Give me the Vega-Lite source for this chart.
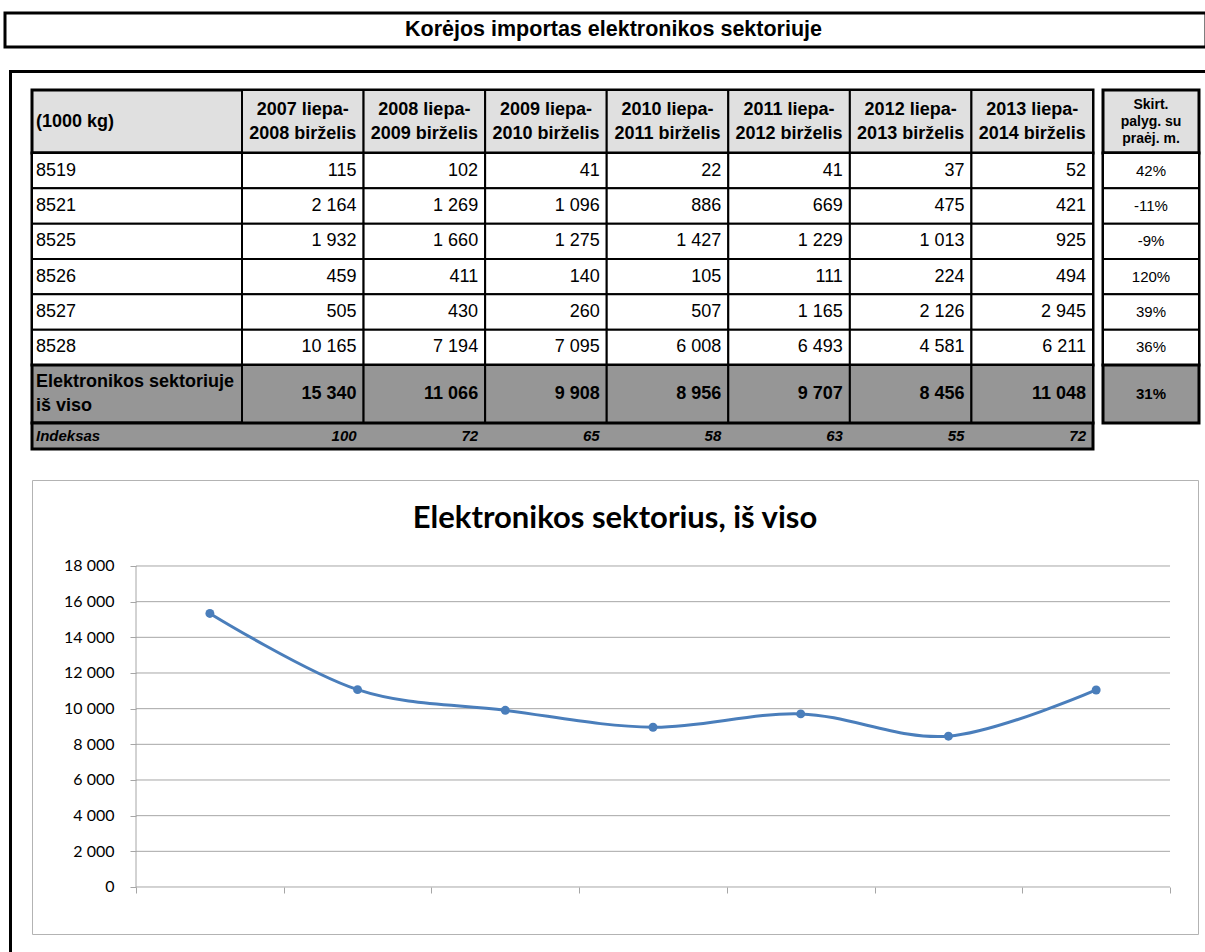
{
  "$schema": "https://vega.github.io/schema/vega-lite/v6.json",
  "padding": {"left": 3, "top": 11, "right": 0, "bottom": 0},
  "background": "white",
  "config": {
    "view": {"stroke": null},
    "locale": {"number": {"decimal": ",", "thousands": " ", "grouping": [3], "currency": ["", " €"], "minus": "-"}},
    "text": {"font": "Liberation Sans", "color": "black"}
  },
  "datasets": {
    "codes": [
      {"code": "8519", "period": "2007 liepa-\n2008 birželis", "value": 115},
      {"code": "8519", "period": "2008 liepa-\n2009 birželis", "value": 102},
      {"code": "8519", "period": "2009 liepa-\n2010 birželis", "value": 41},
      {"code": "8519", "period": "2010 liepa-\n2011 birželis", "value": 22},
      {"code": "8519", "period": "2011 liepa-\n2012 birželis", "value": 41},
      {"code": "8519", "period": "2012 liepa-\n2013 birželis", "value": 37},
      {"code": "8519", "period": "2013 liepa-\n2014 birželis", "value": 52},
      {"code": "8521", "period": "2007 liepa-\n2008 birželis", "value": 2164},
      {"code": "8521", "period": "2008 liepa-\n2009 birželis", "value": 1269},
      {"code": "8521", "period": "2009 liepa-\n2010 birželis", "value": 1096},
      {"code": "8521", "period": "2010 liepa-\n2011 birželis", "value": 886},
      {"code": "8521", "period": "2011 liepa-\n2012 birželis", "value": 669},
      {"code": "8521", "period": "2012 liepa-\n2013 birželis", "value": 475},
      {"code": "8521", "period": "2013 liepa-\n2014 birželis", "value": 421},
      {"code": "8525", "period": "2007 liepa-\n2008 birželis", "value": 1932},
      {"code": "8525", "period": "2008 liepa-\n2009 birželis", "value": 1660},
      {"code": "8525", "period": "2009 liepa-\n2010 birželis", "value": 1275},
      {"code": "8525", "period": "2010 liepa-\n2011 birželis", "value": 1427},
      {"code": "8525", "period": "2011 liepa-\n2012 birželis", "value": 1229},
      {"code": "8525", "period": "2012 liepa-\n2013 birželis", "value": 1013},
      {"code": "8525", "period": "2013 liepa-\n2014 birželis", "value": 925},
      {"code": "8526", "period": "2007 liepa-\n2008 birželis", "value": 459},
      {"code": "8526", "period": "2008 liepa-\n2009 birželis", "value": 411},
      {"code": "8526", "period": "2009 liepa-\n2010 birželis", "value": 140},
      {"code": "8526", "period": "2010 liepa-\n2011 birželis", "value": 105},
      {"code": "8526", "period": "2011 liepa-\n2012 birželis", "value": 111},
      {"code": "8526", "period": "2012 liepa-\n2013 birželis", "value": 224},
      {"code": "8526", "period": "2013 liepa-\n2014 birželis", "value": 494},
      {"code": "8527", "period": "2007 liepa-\n2008 birželis", "value": 505},
      {"code": "8527", "period": "2008 liepa-\n2009 birželis", "value": 430},
      {"code": "8527", "period": "2009 liepa-\n2010 birželis", "value": 260},
      {"code": "8527", "period": "2010 liepa-\n2011 birželis", "value": 507},
      {"code": "8527", "period": "2011 liepa-\n2012 birželis", "value": 1165},
      {"code": "8527", "period": "2012 liepa-\n2013 birželis", "value": 2126},
      {"code": "8527", "period": "2013 liepa-\n2014 birželis", "value": 2945},
      {"code": "8528", "period": "2007 liepa-\n2008 birželis", "value": 10165},
      {"code": "8528", "period": "2008 liepa-\n2009 birželis", "value": 7194},
      {"code": "8528", "period": "2009 liepa-\n2010 birželis", "value": 7095},
      {"code": "8528", "period": "2010 liepa-\n2011 birželis", "value": 6008},
      {"code": "8528", "period": "2011 liepa-\n2012 birželis", "value": 6493},
      {"code": "8528", "period": "2012 liepa-\n2013 birželis", "value": 4581},
      {"code": "8528", "period": "2013 liepa-\n2014 birželis", "value": 6211}
    ],
    "totals": [
      {"period": "2007 liepa-\n2008 birželis", "value": 15340, "index": 100},
      {"period": "2008 liepa-\n2009 birželis", "value": 11066, "index": 72},
      {"period": "2009 liepa-\n2010 birželis", "value": 9908, "index": 65},
      {"period": "2010 liepa-\n2011 birželis", "value": 8956, "index": 58},
      {"period": "2011 liepa-\n2012 birželis", "value": 9707, "index": 63},
      {"period": "2012 liepa-\n2013 birželis", "value": 8456, "index": 55},
      {"period": "2013 liepa-\n2014 birželis", "value": 11048, "index": 72}
    ],
    "change": [
      {"code": "8519", "change": 0.42},
      {"code": "8521", "change": -0.11},
      {"code": "8525", "change": -0.09},
      {"code": "8526", "change": 1.2},
      {"code": "8527", "change": 0.39},
      {"code": "8528", "change": 0.36}
    ],
    "totalRow": [
      {"label": "Elektronikos sektoriuje\niš viso", "change": 0.31}
    ],
    "grid": [
      {"v": 0}, {"v": 2000}, {"v": 4000}, {"v": 6000}, {"v": 8000},
      {"v": 10000}, {"v": 12000}, {"v": 14000}, {"v": 16000}, {"v": 18000}
    ]
  },
  "spacing": 21,
  "vconcat": [
    {
      "width": 1201, "height": 34,
      "view": {"stroke": "black", "strokeWidth": 3, "fill": "white"},
      "data": {"values": [{"title": "Korėjos importas elektronikos sektoriuje"}]},
      "mark": {"type": "text", "fontWeight": "bold", "fontSize": 21.5, "baseline": "middle", "align": "center", "dx": 8},
      "encoding": {"text": {"field": "title"}}
    },
    {
      "spacing": 3,
      "hconcat": [
        {"width": 1, "height": 1, "data": {"values": []}, "mark": "point"},
        {
          "spacing": 0,
          "vconcat": [
            {"width": 1197, "height": 3, "view": {"fill": "black", "stroke": null}, "data": {"values": []}, "mark": "point"},
            {
              "spacing": 17,
              "hconcat": [
                {"width": 3, "height": 880, "view": {"fill": "black", "stroke": null}, "data": {"values": []}, "mark": "point"},
                {
                  "spacing": 0,
                  "vconcat": [
                    {"width": 1, "height": 14, "data": {"values": []}, "mark": "point"},
                    {
                      "spacing": 4,
                      "hconcat": [
                        {
                          "spacing": 0,
                          "bounds": "flush",
                          "vconcat": [
                            {
                              "width": 1061, "height": 63,
                              "view": {"fill": "#e0e0e0", "stroke": "black", "strokeWidth": 3},
                              "layer": [
                                {
                                  "data": {"values": [{"label": "(1000 kg)"}]},
                                  "mark": {"type": "text", "fontWeight": "bold", "fontSize": 18, "align": "left", "baseline": "middle", "dx": 4},
                                  "encoding": {
                                    "text": {"field": "label"},
                                    "x": {"datum": 0, "type": "quantitative", "scale": {"domain": [0, 1]}, "axis": null}
                                  }
                                },
                                {
                                  "data": {"name": "totals"},
                                  "mark": {"type": "rect", "fill": "#e0e0e0", "stroke": "black", "strokeWidth": 2},
                                  "encoding": {
                                    "x": {"field": "period", "type": "nominal", "sort": null, "scale": {"type": "band", "paddingInner": 0, "paddingOuter": 0.8637, "align": 1}, "axis": null}
                                  }
                                },
                                {
                                  "data": {"name": "totals"},
                                  "mark": {"type": "text", "fontWeight": "bold", "fontSize": 18, "lineBreak": "\n", "lineHeight": 24, "baseline": "middle", "align": "center", "dy": -12},
                                  "encoding": {
                                    "x": {"field": "period", "type": "nominal", "sort": null, "scale": {"type": "band", "paddingInner": 0, "paddingOuter": 0.8637, "align": 1}, "axis": null},
                                    "text": {"field": "period"}
                                  }
                                }
                              ],
                              "resolve": {"scale": {"x": "independent"}}
                            },
                            {
                              "width": 1061, "height": 212,
                              "view": {"fill": "white", "stroke": "black", "strokeWidth": 3},
                              "layer": [
                                {
                                  "data": {"name": "change"},
                                  "mark": {"type": "rect", "fill": "white", "stroke": "black", "strokeWidth": 2},
                                  "encoding": {
                                    "y": {"field": "code", "type": "nominal", "sort": null, "scale": {"type": "band", "paddingInner": 0, "paddingOuter": 0}, "axis": null}
                                  }
                                },
                                {
                                  "data": {"name": "change"},
                                  "mark": {"type": "text", "fontSize": 18, "align": "left", "baseline": "middle", "dx": 4},
                                  "encoding": {
                                    "text": {"field": "code"},
                                    "x": {"datum": 0, "type": "quantitative", "scale": {"domain": [0, 1]}, "axis": null},
                                    "y": {"field": "code", "type": "nominal", "sort": null}
                                  }
                                },
                                {
                                  "data": {"name": "codes"},
                                  "mark": {"type": "rect", "fill": "white", "stroke": "black", "strokeWidth": 2},
                                  "encoding": {
                                    "x": {"field": "period", "type": "nominal", "sort": null, "scale": {"type": "band", "paddingInner": 0, "paddingOuter": 0.8637, "align": 1}, "axis": null},
                                    "y": {"field": "code", "type": "nominal", "sort": null}
                                  }
                                },
                                {
                                  "data": {"name": "codes"},
                                  "mark": {"type": "text", "fontSize": 18, "align": "right", "baseline": "middle", "dx": -7},
                                  "encoding": {
                                    "x": {"field": "period", "type": "nominal", "sort": null, "bandPosition": 1, "scale": {"type": "band", "paddingInner": 0, "paddingOuter": 0.8637, "align": 1}, "axis": null},
                                    "y": {"field": "code", "type": "nominal", "sort": null},
                                    "text": {"field": "value", "type": "quantitative", "format": ",d"}
                                  }
                                }
                              ],
                              "resolve": {"scale": {"x": "independent"}}
                            },
                            {
                              "width": 1061, "height": 58,
                              "view": {"fill": "#969696", "stroke": "black", "strokeWidth": 3},
                              "layer": [
                                {
                                  "data": {"name": "totalRow"},
                                  "mark": {"type": "text", "fontWeight": "bold", "fontSize": 18, "align": "left", "baseline": "middle", "dx": 4, "dy": -12, "lineBreak": "\n", "lineHeight": 24},
                                  "encoding": {
                                    "text": {"field": "label"},
                                    "x": {"datum": 0, "type": "quantitative", "scale": {"domain": [0, 1]}, "axis": null}
                                  }
                                },
                                {
                                  "data": {"name": "totals"},
                                  "mark": {"type": "rect", "fill": "#969696", "stroke": "black", "strokeWidth": 2},
                                  "encoding": {
                                    "x": {"field": "period", "type": "nominal", "sort": null, "scale": {"type": "band", "paddingInner": 0, "paddingOuter": 0.8637, "align": 1}, "axis": null}
                                  }
                                },
                                {
                                  "data": {"name": "totals"},
                                  "mark": {"type": "text", "fontWeight": "bold", "fontSize": 18, "align": "right", "baseline": "middle", "dx": -7},
                                  "encoding": {
                                    "x": {"field": "period", "type": "nominal", "sort": null, "bandPosition": 1, "scale": {"type": "band", "paddingInner": 0, "paddingOuter": 0.8637, "align": 1}, "axis": null},
                                    "text": {"field": "value", "type": "quantitative", "format": ",d"}
                                  }
                                }
                              ],
                              "resolve": {"scale": {"x": "independent"}}
                            },
                            {
                              "width": 1061, "height": 26,
                              "view": {"fill": "#969696", "stroke": "black", "strokeWidth": 3},
                              "layer": [
                                {
                                  "data": {"values": [{"label": "Indeksas"}]},
                                  "mark": {"type": "text", "fontWeight": "bold", "fontStyle": "italic", "fontSize": 15, "align": "left", "baseline": "middle", "dx": 4},
                                  "encoding": {
                                    "text": {"field": "label"},
                                    "x": {"datum": 0, "type": "quantitative", "scale": {"domain": [0, 1]}, "axis": null}
                                  }
                                },
                                {
                                  "data": {"name": "totals"},
                                  "mark": {"type": "text", "fontWeight": "bold", "fontStyle": "italic", "fontSize": 15, "align": "right", "baseline": "middle", "dx": -7},
                                  "encoding": {
                                    "x": {"field": "period", "type": "nominal", "sort": null, "bandPosition": 1, "scale": {"type": "band", "paddingInner": 0, "paddingOuter": 0.8637, "align": 1}, "axis": null},
                                    "text": {"field": "index", "type": "quantitative"}
                                  }
                                }
                              ],
                              "resolve": {"scale": {"x": "independent"}}
                            }
                          ]
                        },
                        {
                          "spacing": 0,
                          "bounds": "flush",
                          "vconcat": [
                            {
                              "width": 96, "height": 63,
                              "view": {"fill": "#e0e0e0", "stroke": "black", "strokeWidth": 3},
                              "data": {"values": [{"label": "Skirt.\npalyg. su\npraėj. m."}]},
                              "mark": {"type": "text", "fontWeight": "bold", "fontSize": 14, "align": "center", "baseline": "middle", "lineBreak": "\n", "lineHeight": 17, "dy": -17},
                              "encoding": {"text": {"field": "label"}}
                            },
                            {
                              "width": 96, "height": 212,
                              "view": {"fill": "white", "stroke": "black", "strokeWidth": 3},
                              "data": {"name": "change"},
                              "encoding": {
                                "y": {"field": "code", "type": "nominal", "sort": null, "scale": {"type": "band", "paddingInner": 0, "paddingOuter": 0}, "axis": null}
                              },
                              "layer": [
                                {"mark": {"type": "rect", "fill": "white", "stroke": "black", "strokeWidth": 2}},
                                {
                                  "mark": {"type": "text", "fontSize": 15, "align": "center", "baseline": "middle"},
                                  "encoding": {"text": {"field": "change", "type": "quantitative", "format": ".0%"}}
                                }
                              ]
                            },
                            {
                              "width": 96, "height": 58,
                              "view": {"fill": "#969696", "stroke": "black", "strokeWidth": 3},
                              "data": {"name": "totalRow"},
                              "mark": {"type": "text", "fontWeight": "bold", "fontSize": 15, "align": "center", "baseline": "middle"},
                              "encoding": {"text": {"field": "change", "type": "quantitative", "format": ".0%"}}
                            }
                          ]
                        }
                      ]
                    },
                    {"width": 1, "height": 28, "data": {"values": []}, "mark": "point"},
                    {
                      "width": 1166, "height": 454,
                      "view": {"fill": "white", "stroke": "#b3b3b3", "strokeWidth": 1},
                      "title": {"text": "Elektronikos sektorius, iš viso", "font": "Lato", "fontSize": 31, "fontWeight": "bold", "color": "black", "offset": -55, "anchor": "middle"},
                      "data": {"name": "totals"},
                      "layer": [
                        {
                          "data": {"name": "grid"},
                          "mark": {"type": "rule", "color": "#a6a6a6", "strokeWidth": 1},
                          "encoding": {
                            "y": {"field": "v", "type": "quantitative", "title": null},
                            "x": {"datum": "2007 liepa-\n2008 birželis", "type": "nominal", "bandPosition": 0, "title": null},
                            "x2": {"datum": "2013 liepa-\n2014 birželis", "bandPosition": 1}
                          }
                        },
                        {
                          "data": {"values": [{}]},
                          "mark": {"type": "rule", "color": "#a6a6a6", "strokeWidth": 1},
                          "encoding": {
                            "x": {"datum": "2007 liepa-\n2008 birželis", "type": "nominal", "bandPosition": 0, "title": null},
                            "y": {"datum": 0, "type": "quantitative", "title": null},
                            "y2": {"datum": 18000}
                          }
                        },
                        {
                          "mark": {"type": "line", "interpolate": "cardinal", "color": "#4a7ebb", "strokeWidth": 3},
                          "encoding": {
                            "x": {
                              "field": "period", "type": "nominal", "sort": null,
                              "scale": {
                                "type": "band",
                                "domain": ["2007 liepa-\n2008 birželis", "2008 liepa-\n2009 birželis", "2009 liepa-\n2010 birželis", "2010 liepa-\n2011 birželis", "2011 liepa-\n2012 birželis", "2012 liepa-\n2013 birželis", "2013 liepa-\n2014 birželis"],
                                "paddingInner": 0, "paddingOuter": 0.4468, "align": 0.788
                              },
                              "axis": {"orient": "bottom", "offset": -47, "labels": false, "domain": false, "ticks": true, "tickBand": "extent", "tickSize": 6, "tickColor": "#a6a6a6", "tickWidth": 1, "grid": false, "title": null}
                            },
                            "y": {
                              "field": "value", "type": "quantitative",
                              "scale": {"domain": [-2636, 22822], "nice": false, "zero": false},
                              "axis": {"values": [0, 2000, 4000, 6000, 8000, 10000, 12000, 14000, 16000, 18000], "offset": -104, "domain": false, "grid": false, "ticks": true, "tickSize": 6, "tickColor": "#a6a6a6", "labelFont": "Lato", "labelFontSize": 16, "labelColor": "black", "labelPadding": 16, "format": ",d", "title": null}
                            }
                          }
                        },
                        {
                          "mark": {"type": "point", "filled": true, "size": 80, "color": "#4a7ebb", "opacity": 1},
                          "encoding": {
                            "x": {"field": "period", "type": "nominal", "sort": null, "title": null},
                            "y": {"field": "value", "type": "quantitative", "title": null}
                          }
                        }
                      ]
                    }
                  ]
                }
              ]
            }
          ]
        }
      ]
    }
  ]
}
